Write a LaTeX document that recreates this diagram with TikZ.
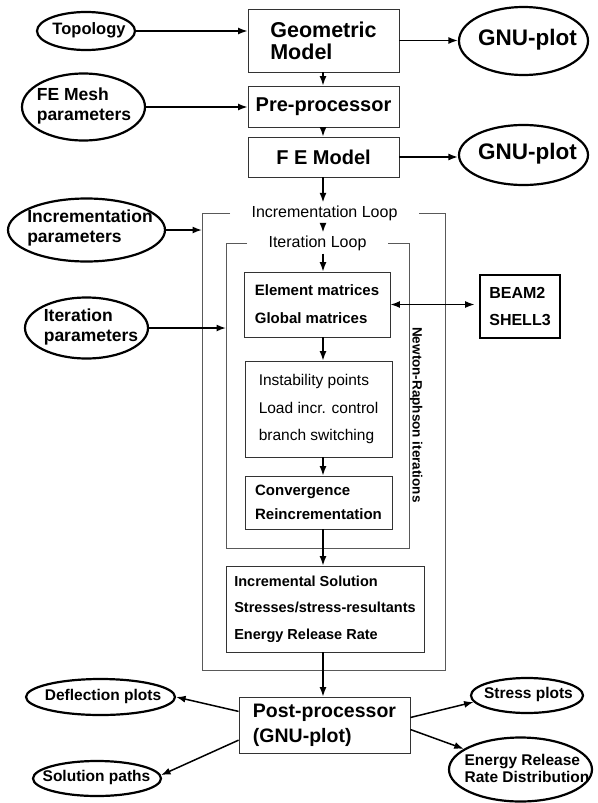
\documentclass[tikz,border=0pt]{standalone}
\usepackage{fontspec}
\setmainfont{Liberation Sans}
\usetikzlibrary{shapes.geometric,arrows.meta,calc}
\begin{document}
\begin{tikzpicture}[x=1pt,y=-1pt,
  ell/.style={draw, line width=2.2pt, ellipse, inner sep=0pt},
  etext/.style={font=\bfseries\fontsize{17.5}{19.5}\selectfont, align=left, inner sep=0pt},
  btext/.style={font=\bfseries\fontsize{15.5}{17.5}\selectfont, align=left, inner sep=0pt},
  gtext/.style={font=\bfseries\fontsize{22.5}{24}\selectfont, inner sep=0pt},
  bx/.style={draw=black!80, line width=0.9pt, rectangle, inner sep=0pt, align=left},
  arr/.style={-{Latex[length=9.5pt,width=7pt]}, line width=1.5pt},
  darr/.style={{Latex[length=9.5pt,width=7pt]}-{Latex[length=9.5pt,width=7pt]}, line width=1.5pt},
  loopframe/.style={draw=black!65, line width=0.8pt},
  ttl/.style={font=\fontsize{16}{18}\selectfont, inner sep=3pt}
]
\useasboundingbox (0,0) rectangle (597,803);
\fill[white] (0,0) rectangle (597,803);

% ellipses
\node[ell, minimum width=98pt, minimum height=38pt] (topo) at (86,31) {};
\node[etext, font=\bfseries\fontsize{16.5}{18}\selectfont] (topoT) at (89,30) {Topology};
\node[ell, minimum width=123pt, minimum height=67pt] (mesh) at (83.5,107) {};
\node[etext] (meshT) at (84,106) {FE Mesh\\parameters};
\node[ell, minimum width=157pt, minimum height=63pt] (incr) at (86.5,230) {};
\node[etext] (incrTx) at (90,228) {Incrementation\\parameters};
\node[ell, minimum width=123pt, minimum height=61pt] (iter) at (86.5,328) {};
\node[etext] (iterTx) at (91,327) {Iteration\\parameters};
\node[ell, minimum width=129pt, minimum height=68pt] (gnu1) at (523.5,41) {};
\node[gtext] (gnu1T) at (527.5,40) {GNU-plot};
\node[ell, minimum width=129pt, minimum height=60pt] (gnu2) at (523.5,155) {};
\node[gtext] (gnu2T) at (527.5,154) {GNU-plot};
\node[ell, minimum width=149pt, minimum height=36pt] (defl) at (100.5,697) {};
\node[btext] (deflT) at (103,696) {Deflection plots};
\node[ell, minimum width=128pt, minimum height=35pt] (sol) at (97,778.5) {};
\node[btext] (solT) at (96.5,777.5) {Solution paths};
\node[ell, minimum width=112pt, minimum height=35pt] (stress) at (527,695.5) {};
\node[btext] (stressT) at (528.5,694.5) {Stress plots};
\node[ell, minimum width=143pt, minimum height=64pt] (energy) at (520.5,769.5) {};
\node[btext] (energyT) at (527,768.5) {Energy Release\\Rate Distribution};

% boxes
\node[bx, minimum width=151pt, minimum height=63pt, font=\bfseries\fontsize{21.5}{22}\selectfont] (geo) at (323.5,40.5) {Geometric\\Model};
\node[bx, minimum width=151pt, minimum height=41pt, font=\bfseries\fontsize{20}{22}\selectfont] (pre) at (323.5,106.5) {Pre-processor};
\node[bx, minimum width=151pt, minimum height=40pt, font=\bfseries\fontsize{20}{22}\selectfont] (fe) at (323.5,157) {F E Model};
\node[ttl] (incrT) at (324.5,213) {Incrementation Loop};
\node[ttl] (iterT) at (317.5,243) {Iteration Loop};
\node[bx, minimum width=146pt, minimum height=65pt, font=\bfseries\fontsize{15}{28}\selectfont] (elem) at (317,304.5) {Element matrices\\Global matrices};
\node[bx, minimum width=147pt, minimum height=96pt, font=\fontsize{15.5}{27.5}\selectfont] (inst) at (318.5,409) {Instability points\\Load incr. control\\branch switching};
\node[bx, minimum width=147pt, minimum height=53pt, font=\bfseries\fontsize{15}{24}\selectfont] (conv) at (318.5,502.5) {Convergence\\Reincrementation};
\node[bx, minimum width=198pt, minimum height=86pt, font=\bfseries\fontsize{14.5}{26.5}\selectfont] (incs) at (325,609) {Incremental Solution\\Stresses/stress-resultants\\Energy Release Rate};
\node[bx, minimum width=171pt, minimum height=56pt, font=\bfseries\fontsize{19.5}{25}\selectfont] (post) at (324.5,725) {Post-processor\\(GNU-plot)};
\node[bx, draw=black, line width=2.8pt, minimum width=80pt, minimum height=63pt, font=\bfseries\fontsize{16}{27}\selectfont] (beam) at (520,306.5) {BEAM2\\SHELL3};
\node[rotate=-90, inner sep=0pt, font=\bfseries\fontsize{13.5}{15}\selectfont] (newton) at (416,415) {Newton-Raphson iterations};

% loop frames
\coordinate (oTL) at (202,213);
\coordinate (oBR) at (445,670);
\coordinate (iTL) at (226,243);
\coordinate (iBR) at (409,548);
\draw[loopframe] (230,213) -- (oTL) -- (oTL |- oBR) -- (oBR) -- (oBR |- oTL) -- (419,213);
\draw[loopframe] (247,243) -- (iTL) -- (iTL |- iBR) -- (iBR) -- (iBR |- iTL) -- (388,243);

% connectors
\coordinate (col) at (323,0);
\draw[arr] (topo.east) -- (topo.east -| geo.west);
\draw[arr] (mesh.east) -- (mesh.east -| pre.west);
\draw[arr] (geo.east) -- (geo.east -| gnu1.west);
\draw[arr] (fe.east) -- (fe.east -| gnu2.west);
\draw[arr] (incr.east) -- (incr.east -| oTL);
\draw[arr] (iter.east) -- (iter.east -| iTL);
\draw[arr] (geo.south -| col) -- (pre.north -| col);
\draw[arr] (pre.south -| col) -- (fe.north -| col);
\draw[arr] (fe.south -| col) -- (incrT.north -| col);
\draw[arr] (incrT.south -| col) -- (iterT.north -| col);
\draw[arr] (iterT.south -| col) -- (elem.north -| col);
\draw[arr] (elem.south -| col) -- (inst.north -| col);
\draw[arr] (inst.south -| col) -- (conv.north -| col);
\draw[arr] (conv.south -| col) -- (incs.north -| col);
\draw[arr] (incs.south -| col) -- (post.north -| col);
\draw[darr, shorten >=4pt] (elem.east) -- (elem.east -| beam.west);
\draw[arr] (post.171) -- (defl.east);
\draw[arr] (post.190) -- (sol.3);
\draw[arr] (post.5) -- (stress.187);
\draw[arr] (post.-3) -- (energy.160);
\end{tikzpicture}
\end{document}
